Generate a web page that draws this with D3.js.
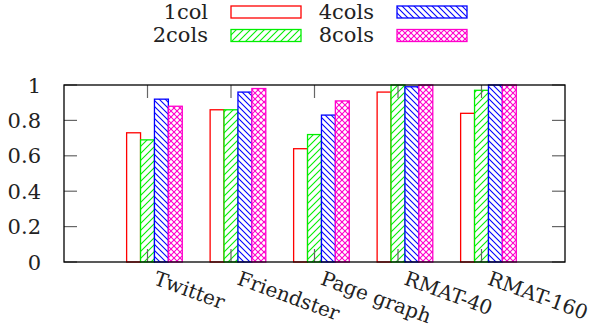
<!DOCTYPE html>
<html><head><meta charset="utf-8">
<script src="https://cdn.jsdelivr.net/npm/d3@7"></script>
<style>body{margin:0;background:#fff}svg{display:block}</style>
</head><body>
<script>
const categories = ["Twitter","Friendster","Page graph","RMAT-40","RMAT-160"];
const seriesNames = ["1col","2cols","4cols","8cols"];
const values1col  = [0.73,0.86,0.64,0.96,0.84];
const values2cols = [0.69,0.86,0.72,1.00,0.97];
const values4cols = [0.92,0.96,0.83,0.99,1.00];
const values8cols = [0.88,0.98,0.91,1.00,1.00];
const yTicks = [0,0.2,0.4,0.6,0.8,1];
const yTickLabels = ["0","0.2","0.4","0.6","0.8","1"];
const allSeries = [values1col, values2cols, values4cols, values8cols];
const colors = ["#ff0000","#00ee00","#0000ff","#ff00cc"];
const FONT = "DejaVu Serif";

const W=605,H=330;
const svg=d3.select("body").append("svg").attr("width",W).attr("height",H)
  .style("font-family",FONT).attr("fill","#222");
const defs=svg.append("defs");
function pat(id, size, color, paths){
  const p=defs.append("pattern").attr("id",id).attr("patternUnits","userSpaceOnUse").attr("width",size).attr("height",size);
  p.append("rect").attr("width",size).attr("height",size).attr("fill","#fff");
  paths.forEach(d=>p.append("path").attr("d",d).attr("stroke",color).attr("stroke-width",1.1).attr("fill","none"));
}
pat("p1",7,colors[1],["M-1,8 L8,-1","M-2,2 L2,-2","M5,9 L9,5"]);
pat("p2",6,colors[2],["M-1,-1 L7,7","M5,-1 L7,1","M-1,5 L1,7"]);
pat("p3",6,colors[3],["M-1,-1 L7,7","M-1,7 L7,-1","M5,-1 L7,1","M-1,5 L1,7","M-1,1 L1,-1","M5,7 L7,5"]);
const fills=["#fff","url(#p1)","url(#p2)","url(#p3)"];

const mLeft=64,mRight=565,mTop=85,mBottom=262;
const x=d3.scaleLinear().domain([-1,5]).range([mLeft,mRight]);
const y=d3.scaleLinear().domain([0,1]).range([mBottom,mTop]);
const bw=1/6;

allSeries.forEach((vals,si)=>{
  svg.append("g").selectAll("rect").data(vals).join("rect")
    .attr("x",(d,i)=>x(i-0.25+si*bw))
    .attr("width",x(bw)-x(0))
    .attr("y",d=>y(Math.min(d,1)))
    .attr("height",d=>y(0)-y(Math.min(d,1)))
    .attr("fill",fills[si]).attr("stroke",colors[si]).attr("stroke-width",1.3);
});

const tg=svg.append("g").attr("stroke","#666").attr("stroke-width",1.2);
yTicks.forEach(t=>{
  tg.append("line").attr("x1",mLeft).attr("x2",mLeft+13).attr("y1",y(t)).attr("y2",y(t));
  tg.append("line").attr("x1",mRight).attr("x2",mRight-13).attr("y1",y(t)).attr("y2",y(t));
});
categories.forEach((c,i)=>{
  tg.append("line").attr("x1",x(i)).attr("x2",x(i)).attr("y1",mTop).attr("y2",mTop+13);
  tg.append("line").attr("x1",x(i)).attr("x2",x(i)).attr("y1",mBottom).attr("y2",mBottom-13);
});
svg.append("rect").attr("x",mLeft).attr("y",mTop).attr("width",mRight-mLeft).attr("height",mBottom-mTop)
  .attr("fill","none").attr("stroke","#000").attr("stroke-width",1.3);

svg.append("g").selectAll("text").data(yTicks).join("text")
  .attr("x",41).attr("y",d=>y(d)).attr("dy","0.36em").attr("text-anchor","end")
  .attr("font-size",21).style("font-family",FONT).text((d,i)=>yTickLabels[i]);
svg.append("g").selectAll("text").data(categories).join("text")
  .attr("transform",(d,i)=>`translate(${x(i)+5},284) rotate(20)`)
  .attr("font-size",20).style("font-family",FONT).text(d=>d);

const legPos=[[208,231,18.5,6],[208,231,42,29.5],[374,397,18.5,6],[374,397,42,29.5]];
seriesNames.forEach((n,i)=>{
  const [tx,bx,ty,by]=legPos[i];
  svg.append("text").attr("x",tx).attr("y",ty).attr("text-anchor","end").attr("font-size",21)
    .style("font-family",FONT).text(n);
  svg.append("rect").attr("x",bx).attr("y",by).attr("width",70).attr("height",12)
    .attr("fill",fills[i]).attr("stroke",colors[i]).attr("stroke-width",1.3);
});
</script>
</body></html>
